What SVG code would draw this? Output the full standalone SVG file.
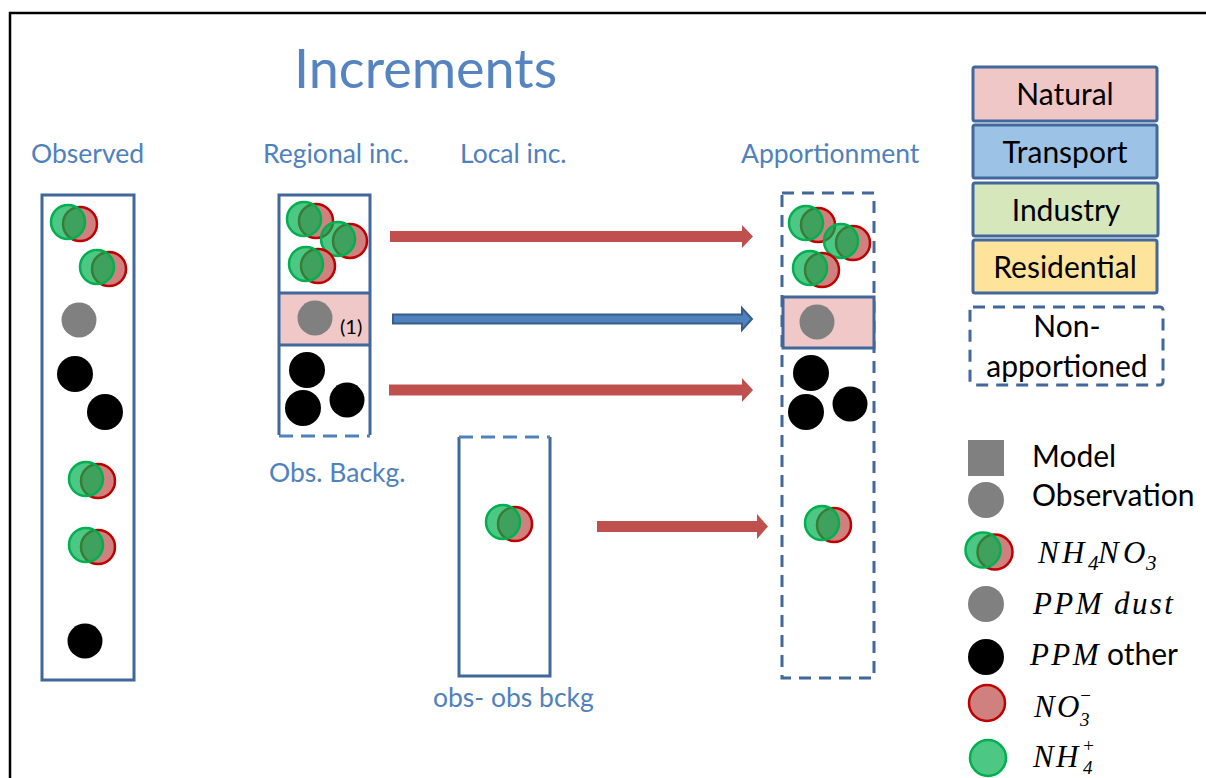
<svg xmlns="http://www.w3.org/2000/svg" width="1206" height="778" viewBox="0 0 1206 778">
<defs>
<style>
.lbl{font-family:Lato,"Liberation Sans",sans-serif;fill:#4f81bd;font-size:26.5px}
.ttl{font-family:Lato,"Liberation Sans",sans-serif;fill:#5584c0;font-size:54px}
.lg{font-family:Lato,"Liberation Sans",sans-serif;fill:#000;font-size:30px;text-anchor:middle}
.lg2{font-family:Lato,"Liberation Sans",sans-serif;fill:#000;font-size:30px}
.mt{font-family:"Liberation Serif",serif;font-style:italic;fill:#000;font-size:31px;letter-spacing:2.4px}
.ms{font-family:"Liberation Serif",serif;font-style:italic;fill:#000;font-size:21px}
.ss{font-family:"Liberation Serif",serif;font-style:italic;fill:#000;font-size:19px}
.box{fill:#fff;stroke:#41679b;stroke-width:3}
.dash{fill:none;stroke:#41679b;stroke-width:3;stroke-dasharray:12 8}
.lgb{stroke:#41679b;stroke-width:3}
.red{fill:#d0807f;stroke:#c00000;stroke-width:2.5}
.grn{fill:#00b050;fill-opacity:0.7;stroke:#00b050;stroke-width:2.5}
.gry{fill:#808080}
.blk{fill:#000}
.ra{fill:#c0504d}
.ba{fill:#4f81bd;stroke:#385d8a;stroke-width:2}
</style>
<g id="pair">
<circle class="red" cx="12" cy="2" r="17"/>
<circle class="grn" cx="0" cy="0" r="17"/>
</g>
</defs>
<rect x="10" y="13" width="1300" height="900" fill="#fff" stroke="#000" stroke-width="2.5"/>
<text class="ttl" x="294" y="88">Increments</text>
<text class="lbl" x="31" y="163">Observed</text>
<text class="lbl" x="263" y="163">Regional inc.</text>
<text class="lbl" x="460" y="163">Local inc.</text>
<text class="lbl" x="741" y="163">Apportionment</text>
<text class="lbl" x="269" y="482">Obs. Backg.</text>
<text class="lbl" x="433" y="707">obs- obs bckg</text>

<g id="observed">
<rect class="box" x="42" y="195" width="92" height="485"/>
<use href="#pair" x="68" y="222"/>
<use href="#pair" x="97" y="267"/>
<circle class="gry" cx="79" cy="320" r="17.5"/>
<circle class="blk" cx="75" cy="374" r="18"/>
<circle class="blk" cx="105" cy="412" r="18"/>
<use href="#pair" x="86" y="479"/>
<use href="#pair" x="86" y="545"/>
<circle class="blk" cx="85" cy="641" r="17.5"/>
</g>

<g id="regional">
<rect x="279" y="195" width="91" height="240" fill="#fff"/>
<rect x="279" y="293" width="91" height="52" fill="#f0c8c8"/>
<path d="M279 435 V195 H370 V435 M279 293 H370 M279 345 H370" fill="none" stroke="#41679b" stroke-width="3"/>
<path d="M279 436 H370" fill="none" stroke="#4f81bd" stroke-width="3" stroke-dasharray="14 8"/>
<use href="#pair" x="304" y="219"/>
<use href="#pair" x="338" y="239"/>
<use href="#pair" x="306" y="264"/>
<circle class="gry" cx="315" cy="318" r="17.5"/>
<text x="340" y="334" font-family="Lato,'Liberation Sans',sans-serif" font-size="20" fill="#000">(1)</text>
<circle class="blk" cx="307" cy="370" r="18"/>
<circle class="blk" cx="303" cy="408" r="18"/>
<circle class="blk" cx="347" cy="400" r="17.5"/>
</g>

<g id="local">
<rect x="459" y="437" width="91" height="239" fill="#fff"/>
<path d="M459 437 V676 H550 V437" fill="none" stroke="#41679b" stroke-width="3"/>
<path d="M459 437 H550" fill="none" stroke="#4f81bd" stroke-width="3" stroke-dasharray="14 8"/>
<use href="#pair" x="503" y="522"/>
</g>

<g id="apportionment">
<rect class="dash" x="782" y="193" width="92" height="485"/>
<rect x="783" y="297" width="91" height="51" fill="#f0c8c8" stroke="#41679b" stroke-width="3"/>
<use href="#pair" x="806" y="223"/>
<use href="#pair" x="841" y="241"/>
<use href="#pair" x="810" y="268"/>
<circle class="gry" cx="817" cy="322" r="17.5"/>
<circle class="blk" cx="811" cy="373" r="18"/>
<circle class="blk" cx="806" cy="412" r="18"/>
<circle class="blk" cx="850" cy="404" r="17.5"/>
<use href="#pair" x="822" y="523"/>
</g>

<g id="connectors">
<path class="ra" d="M390 231 H742 V225 L753 236.5 L742 248 V242 H390 Z"/>
<path class="ba" d="M393 314.5 H742 V308 L752 319 L742 330 V323.5 H393 Z"/>
<path class="ra" d="M389 384.5 H742 V378 L753 390 L742 402 V395.5 H389 Z"/>
<path class="ra" d="M597 521 H757 V514 L768 526.5 L757 539 V532 H597 Z"/>
</g>

<g id="legend-natural">
<rect class="lgb" x="973" y="67" width="184" height="54" rx="2" fill="#f0c7c7"/>
<text class="lg" x="1065" y="105">Natural</text>
</g>
<g id="legend-transport">
<rect class="lgb" x="973" y="125" width="184" height="53" rx="2" fill="#9cc3e5"/>
<text class="lg" x="1065" y="163">Transport</text>
</g>
<g id="legend-industry">
<rect class="lgb" x="973" y="183" width="185" height="53" rx="2" fill="#d6e7bc"/>
<text class="lg" x="1066" y="221">Industry</text>
</g>
<g id="legend-residential">
<rect class="lgb" x="973" y="240" width="184" height="53" rx="2" fill="#fde49a"/>
<text class="lg" x="1065" y="278">Residential</text>
</g>
<g id="legend-nonapportioned">
<rect x="970" y="307" width="193" height="78" rx="3" fill="#fff" stroke="#41679b" stroke-width="3" stroke-dasharray="12 8"/>
<text class="lg" x="1067" y="337">Non-</text>
<text class="lg" x="1067" y="377">apportioned</text>
</g>

<g id="legend-model">
<rect x="968" y="440" width="36" height="36" fill="#808080"/>
<text class="lg2" x="1032" y="467">Model</text>
</g>
<g id="legend-observation">
<circle class="gry" cx="986" cy="500" r="18"/>
<text class="lg2" x="1032" y="506">Observation</text>
</g>
<g id="legend-nh4no3">
<circle class="red" cx="995" cy="552" r="17.5"/>
<circle class="grn" cx="983" cy="550" r="17.5"/>
<text class="mt" y="563"><tspan x="1038">N</tspan><tspan x="1062">H</tspan></text>
<text class="ms" x="1088" y="570">4</text>
<text class="mt" y="563"><tspan x="1098">N</tspan><tspan x="1123">O</tspan></text>
<text class="ms" x="1146" y="570">3</text>
</g>
<g id="legend-dust">
<circle class="gry" cx="986" cy="604" r="18"/>
<text class="mt" x="1033" y="614">PPM dust</text>
</g>
<g id="legend-other">
<circle class="blk" cx="986" cy="657" r="18"/>
<text class="mt" x="1030" y="665">PPM</text>
<text class="lg2" x="1107" y="665">other</text>
</g>
<g id="legend-no3">
<circle class="red" cx="987" cy="703" r="18"/>
<text class="mt" x="1034" y="717">NO</text>
<text class="ss" x="1080" y="726">3</text>
<text class="ss" x="1079" y="702">−</text>
</g>
<g id="legend-nh4">
<circle class="grn" cx="988" cy="758" r="18"/>
<text class="mt" x="1033" y="767">NH</text>
<text class="ss" x="1083" y="774">4</text>
<text class="ss" x="1082" y="752">+</text>
</g>
</svg>
